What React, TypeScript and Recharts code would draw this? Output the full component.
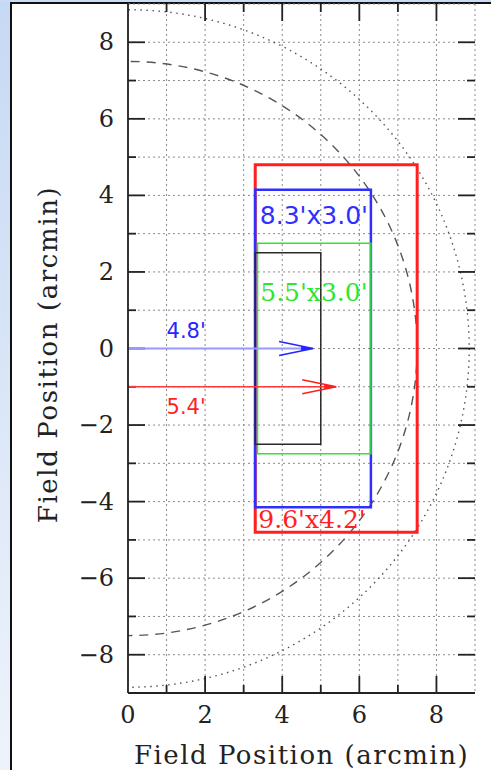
import React from 'react'
import {
  ComposedChart, XAxis, YAxis, CartesianGrid, Line, Scatter,
  ReferenceArea, Customized, usePlotArea,
} from 'recharts'

// axes (arcmin)
const xDomain = [0, 9]
const yDomain = [-9, 9]
const xTicks = [0, 1, 2, 3, 4, 5, 6, 7, 8, 9]
const yTicks = [-9, -8, -7, -6, -5, -4, -3, -2, -1, 0, 1, 2, 3, 4, 5, 6, 7, 8, 9]

// field-of-view circles, centred on the origin
const ringRadius = [8.85, 7.5]
const ringDash = ['1.5 4.5', '9 7']

// detector footprints: red, blue, green, black
const boxLeft = [3.3, 3.3, 3.36, 3.3]
const boxRight = [7.5, 6.3, 6.3, 5.0]
const boxTop = [4.8, 4.15, 2.75, 2.5]
const boxBottom = [-4.8, -4.15, -2.75, -2.5]
const boxColors = ['#ff1f1f', '#2f2fff', '#2ee62e', '#2a2a2a']
const boxStroke = [3, 2.5, 1.5, 1.5]

// footprint labels
const boxLabels = ["9.6'x4.2'", "8.3'x3.0'", "5.5'x3.0'"]
const boxLabelX = [3.38, 3.42, 3.43]
const boxLabelY = [-4.48, 3.48, 1.45]
const boxLabelFont = ['DejaVu Serif', 'DejaVu Sans', 'DejaVu Serif']

// offset arrows
const arrowLabels = ["4.8'", "5.4'"]
const arrowLength = [4.8, 5.4]
const arrowY = [0, -1]
const arrowLabelX = [1.0, 1.0]
const arrowLabelY = [0.45, -1.53]
const arrowHeadColors = ['#2525ff', '#ff1f1f']
const arrowLineColors = ['#9898ff', '#ff3a3a']

const INK = '#222'
const MAJOR = 17
const MINOR = 8

const fmt = (v: number) => (v < 0 ? `\u2212${-v}` : `${v}`)
const isMajor = (v: number) => v % 2 === 0

function LeftTick({ x = 0, y = 0, payload }: any) {
  const v = payload.value
  if (!isMajor(v) || Math.abs(v) >= 9) return <g />
  return (
    <text x={x - 14} y={y} textAnchor="end" dominantBaseline="central"
      style={{ fontFamily: 'DejaVu Serif', fontSize: 24, fill: INK }}>
      {fmt(v)}
    </text>
  )
}

function BottomTick({ x = 0, y = 0, payload }: any) {
  const v = payload.value
  if (!isMajor(v)) return <g />
  return (
    <text x={x} y={y + 22} textAnchor="middle" dominantBaseline="central"
      style={{ fontFamily: 'DejaVu Serif', fontSize: 24, fill: INK }}>
      {fmt(v)}
    </text>
  )
}

// circles, inward tick marks on all four sides, axis titles
function Overlay() {
  const area = usePlotArea()
  if (!area) return null
  const ux = area.width / (xDomain[1] - xDomain[0])
  const uy = area.height / (yDomain[1] - yDomain[0])
  const px = (v: number) => area.x + (v - xDomain[0]) * ux
  const py = (v: number) => area.y + (yDomain[1] - v) * uy
  const left = area.x
  const right = area.x + area.width
  const top = area.y
  const bottom = area.y + area.height
  return (
    <g>
      <defs>
        <clipPath id="plot-clip">
          <rect x={area.x} y={area.y} width={area.width} height={area.height} />
        </clipPath>
      </defs>
      <g clipPath="url(#plot-clip)">
        {ringRadius.map((r, i) => (
          <ellipse key={i} cx={px(0)} cy={py(0)} rx={r * ux} ry={r * uy} fill="none"
            stroke="#555" strokeWidth={1.4} strokeDasharray={ringDash[i]} />
        ))}
      </g>
      <g stroke={INK} strokeWidth={1.8}>
        {yTicks.slice(1, -1).map((v) => {
          const len = isMajor(v) ? MAJOR : MINOR
          return (
            <g key={`y${v}`}>
              <line x1={left} x2={left + len} y1={py(v)} y2={py(v)} />
              <line x1={right} x2={right - len} y1={py(v)} y2={py(v)} />
            </g>
          )
        })}
        {xTicks.slice(1, -1).map((v) => {
          const len = isMajor(v) ? MAJOR : MINOR
          return (
            <g key={`x${v}`}>
              <line x1={px(v)} x2={px(v)} y1={bottom} y2={bottom - len} />
              <line x1={px(v)} x2={px(v)} y1={top} y2={top + len} />
            </g>
          )
        })}
      </g>
      <text x={area.x + area.width / 2} y={bottom + 62} textAnchor="middle"
        dominantBaseline="central"
        style={{ fontFamily: 'DejaVu Serif', fontSize: 26, letterSpacing: 1.5, fill: INK }}>
        Field Position (arcmin)
      </text>
      <text transform={`translate(48, ${area.y + area.height / 2 + 6}) rotate(-90)`} textAnchor="middle"
        dominantBaseline="central"
        style={{ fontFamily: 'DejaVu Serif', fontSize: 26, letterSpacing: 1.6, fill: INK }}>
        Field Position (arcmin)
      </text>
    </g>
  )
}

function BoxLabel({ cx = 0, cy = 0, payload }: any) {
  const i = payload.i
  return (
    <text x={cx} y={cy} dominantBaseline="central"
      style={{ fontFamily: boxLabelFont[i], fontSize: 25, fill: boxColors[i] }}>
      {payload.text}
    </text>
  )
}

function ArrowLabel({ cx = 0, cy = 0, payload }: any) {
  const i = payload.i
  return (
    <text x={cx} y={cy} dominantBaseline="central"
      style={{ fontFamily: 'DejaVu Sans', fontSize: 21, fill: arrowHeadColors[i] }}>
      {payload.text}
    </text>
  )
}

function arrowDot(i: number) {
  return (p: any) => {
    if (p.index !== 1) return <g key={p.index} />
    const { cx, cy } = p
    return (
      <g key={p.index}>
        <path d={`M${cx - 34},${cy - 7} L${cx},${cy} L${cx - 34},${cy + 7}`}
          fill="none" stroke={arrowHeadColors[i]} strokeWidth={1.6} />
        <path d={`M${cx - 12},${cy - 2.5} L${cx},${cy} L${cx - 12},${cy + 2.5} Z`} fill={arrowHeadColors[i]} />
      </g>
    )
  }
}

const boxLabelData = boxLabels.map((text, i) => ({ x: boxLabelX[i], y: boxLabelY[i], text, i }))
const arrowLabelData = arrowLabels.map((text, i) => ({ x: arrowLabelX[i], y: arrowLabelY[i], text, i }))

export default function App() {
  return (
    <div style={{ position: 'absolute', left: 0, top: 0, width: 491, height: 770, background: '#fff', overflow: 'hidden' }}>
      <div style={{ position: 'absolute', left: 0, top: 0, width: 10, height: 770, background: 'linear-gradient(#c6d9f4, #eef3fb)' }} />
      <div style={{ position: 'absolute', left: 0, top: 0, width: 491, height: 2, background: '#cadcf5' }} />
      <div style={{ position: 'absolute', left: 10, top: 2, width: 2, height: 768, background: '#111' }} />
      <div style={{ position: 'absolute', left: 10, top: 2, width: 481, height: 2, background: '#111' }} />
      <div style={{ position: 'absolute', left: 0, top: 0 }}>
        <ComposedChart width={491} height={770} margin={{ top: 4, right: 16, bottom: 0, left: 0 }}>
          <CartesianGrid stroke="#8a8a8a" strokeDasharray="2 3" strokeWidth={1} />
          <XAxis type="number" dataKey="x" domain={xDomain} ticks={xTicks} interval={0} allowDataOverflow
            height={77} tickSize={0} tickMargin={0} tickLine={false} tick={<BottomTick />}
            axisLine={{ stroke: INK, strokeWidth: 1.8 }} />
          <XAxis xAxisId="top" orientation="top" type="number" dataKey="x" domain={xDomain}
            allowDataOverflow height={0} tick={false} tickLine={false}
            axisLine={{ stroke: INK, strokeWidth: 1.8 }} />
          <YAxis type="number" dataKey="y" domain={yDomain} ticks={yTicks} interval={0} allowDataOverflow
            width={128} tickSize={0} tickMargin={0} tickLine={false} tick={<LeftTick />}
            axisLine={{ stroke: INK, strokeWidth: 1.8 }} />
          <YAxis yAxisId="right" orientation="right" type="number" dataKey="y" domain={yDomain}
            allowDataOverflow width={0} tick={false} tickLine={false}
            axisLine={{ stroke: INK, strokeWidth: 1.8 }} />

          <Customized component={<Overlay />} />

          {arrowLength.map((len, i) => (
            <Line key={`arrow-${i}`} data={[{ x: 0, y: arrowY[i] }, { x: len, y: arrowY[i] }]} dataKey="y"
              type="linear" stroke={arrowLineColors[i]} strokeWidth={i === 0 ? 2.2 : 1.5}
              dot={arrowDot(i)} activeDot={false} isAnimationActive={false} />
          ))}

          {boxLeft.map((x1, i) => (
            <ReferenceArea key={`box-${i}`} x1={x1} x2={boxRight[i]} y1={boxBottom[i]} y2={boxTop[i]}
              fill="none" fillOpacity={0} stroke={boxColors[i]} strokeWidth={boxStroke[i]} />
          ))}

          <Scatter data={boxLabelData} shape={<BoxLabel />} isAnimationActive={false} />
          <Scatter data={arrowLabelData} shape={<ArrowLabel />} isAnimationActive={false} />
        </ComposedChart>
      </div>
    </div>
  )
}
